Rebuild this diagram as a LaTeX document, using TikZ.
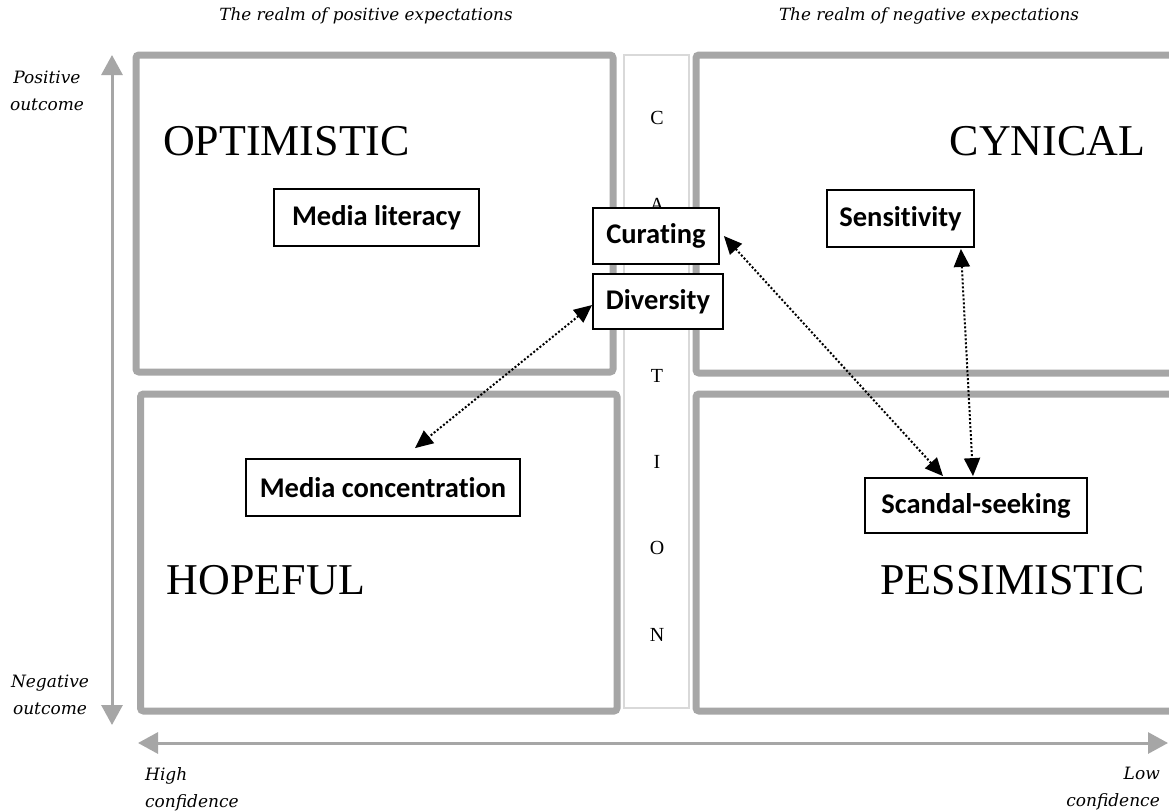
\documentclass[tikz,border=0pt]{standalone}
\usepackage{fontspec}
\setmainfont{Liberation Serif}
\newfontfamily\boxfont{Carlito}[Ligatures=NoCommon]
\newfontfamily\labfont{DejaVu Serif}
\usetikzlibrary{arrows.meta}
\definecolor{quadgray}{HTML}{A6A6A6}
\definecolor{colgray}{HTML}{D9D9D9}
\begin{document}
\begin{tikzpicture}[x=1pt,y=-1pt,
 quad/.style={draw=quadgray,line width=7pt,rounded corners=3pt,fill=white},
 column/.style={draw=colgray,line width=2pt,fill=white},
 concept/.style={draw=black,line width=1.8pt,fill=white,font=\boxfont\bfseries\fontsize{28.5}{31}\selectfont,inner sep=0pt,minimum height=56pt},
 big/.style={font=\fontsize{44}{48}\selectfont,anchor=base,inner sep=0pt},
 letter/.style={font=\fontsize{20}{22}\selectfont,inner sep=0pt},
 axislab/.style={font=\labfont\itshape\fontsize{17}{27}\selectfont,inner sep=0pt},
 titlelab/.style={font=\labfont\itshape\fontsize{16.8}{20}\selectfont,inner sep=0pt,anchor=north},
 axis/.style={draw=quadgray,line width=3pt,{Triangle[length=20pt,width=21pt]}-{Triangle[length=20pt,width=21pt]}},
 link/.style={draw=black,line width=2pt,dash pattern=on 2pt off 2pt,{Triangle[length=18pt,width=16pt]}-{Triangle[length=18pt,width=16pt]}}
]
\useasboundingbox (0,0) rectangle (1169,811);
\clip (0,0) rectangle (1169,811);
\fill[white] (0,0) rectangle (1169,811);

% quadrants
\draw[quad] (136,55) rectangle (613,372);
\draw[quad] (140.5,394) rectangle (617,711);
\draw[quad] (696,55) rectangle (1185,373);
\draw[quad] (696,394) rectangle (1185,711);
\draw[column] (624,55) rectangle (689,708);

% column letters
\node[letter] (lc) at (657,118) {C};
\node[letter] (la) at (657,205) {A};
\node[letter] (lt) at (657,376) {T};
\node[letter] (li) at (657,462) {I};
\node[letter] (lo) at (657,548) {O};
\node[letter] (ln) at (657,635) {N};

% titles
\node[titlelab] (tpos) at (366,8) {The realm of positive expectations};
\node[titlelab] (tneg) at (929,8) {The realm of negative expectations};

% big labels
\node[big] (opt) at (286.5,155) {OPTIMISTIC};
\node[big] (cyn) at (1047.5,155) {CYNICAL};
\node[big] (hop) at (266,594) {HOPEFUL};
\node[big] (pes) at (1012.5,594) {PESSIMISTIC};

% axes
\coordinate (vtop) at (112,55);
\coordinate (vbot) at (112,725);
\coordinate (hleft) at (138,743);
\coordinate (hright) at (1168,743);
\draw[axis] (vtop) -- (vbot);
\draw[axis] (hleft) -- (hright);

\node[axislab,align=center,anchor=north] (posout) at (47,71) {Positive\\outcome};
\node[axislab,align=center,anchor=north] (negout) at (50,675) {Negative\\outcome};
\node[axislab,align=left,anchor=north west] (highc) at (145,767) {High\\confidence};
\node[axislab,align=right,anchor=north east] (lowc) at (1160,767) {Low\\confidence};

% concept boxes
\node[concept,minimum width=205pt,minimum height=57pt] (lit) at (376.5,217.5) {Media literacy};
\node[concept,minimum width=126pt] (cur) at (656,236) {Curating};
\node[concept,minimum width=130pt,minimum height=55pt] (div) at (658,301.5) {Diversity};
\node[concept,minimum width=147pt,minimum height=57pt] (sens) at (900.5,218.5) {Sensitivity};
\node[concept,minimum width=274pt,minimum height=57pt] (conc) at (383,487.5) {Media concentration};
\node[concept,minimum width=222pt,minimum height=55pt] (scan) at (976,505.5) {Scandal-seeking};

% links
\draw[link] ([yshift=-3.5pt]div.west) -- ([xshift=32pt,yshift=10pt]conc.north);
\draw[link] ([xshift=4pt]cur.east) -- ([xshift=-33pt,yshift=1pt]scan.north);
\draw[link] ([xshift=-14pt,yshift=-1pt]sens.south east) -- ([xshift=-3pt,yshift=1pt]scan.north);
\end{tikzpicture}
\end{document}
